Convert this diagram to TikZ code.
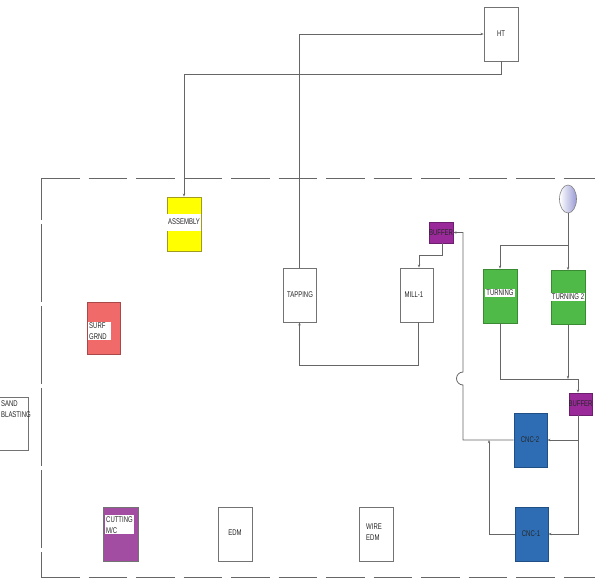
\documentclass[tikz,border=0pt]{standalone}
\usepackage{fontspec}
\setmainfont{Liberation Sans}[FakeStretch=0.72]
\usetikzlibrary{shapes.geometric,arrows.meta}
\definecolor{asmfill}{HTML}{FFFF00}
\definecolor{asmdraw}{HTML}{A09A20}
\definecolor{turnfill}{HTML}{4FBA47}
\definecolor{turndraw}{HTML}{3A8A34}
\definecolor{cncfill}{HTML}{2E6DB4}
\definecolor{cncdraw}{HTML}{1F4F85}
\definecolor{buffill}{HTML}{9A2A9A}
\definecolor{bufdraw}{HTML}{6E1E6E}
\definecolor{cutfill}{HTML}{A24DA2}
\definecolor{surffill}{HTML}{F06A6A}
\definecolor{surfdraw}{HTML}{A84848}
\definecolor{ellcol}{HTML}{9A9AD6}
\begin{document}
\begin{tikzpicture}[x=1pt,y=-1pt,
  box/.style={draw=black!55, line width=0.7pt, minimum width=34pt, minimum height=54pt, inner sep=0pt},
  lbl/.style={font=\fontsize{8.3}{11}\selectfont, inner sep=1pt, align=left, text=black!85},
  wl/.style={lbl, fill=white},
  conn/.style={draw=black!60, line width=0.8pt},
  arr/.style={conn, -{Stealth[length=3.2pt,width=2.4pt]}},
  border/.style={draw=black!60, line width=0.9pt}]
\useasboundingbox (0,0) rectangle (595,579);

% dashed plant border
\draw[border, dash pattern=on 38.5pt off 9pt] (41,178) -- (595,178);
\draw[border, dash pattern=on 38.5pt off 9pt] (41,577) -- (595,577);
\draw[border, dash pattern=on 78pt off 4pt, dash phase=36pt] (41,178) -- (41,577);

% boxes
\node[box, fill=white] (ht) at (501,34) {};
\node[box, fill=asmfill, draw=asmdraw] (asm) at (184,224) {};
\node[box, fill=white, minimum width=33pt] (tap) at (299.5,295) {};
\node[box, fill=white, minimum width=33pt] (mill) at (416.5,295) {};
\node[box, fill=buffill, draw=bufdraw, minimum width=24pt, minimum height=21pt] (buf1) at (441,232.5) {};
\node[box, fill=turnfill, draw=turndraw] (turn) at (500,296) {};
\node[box, fill=turnfill, draw=turndraw] (turn2) at (568,297.5) {};
\node[ellipse, draw=black!50, line width=0.6pt, left color=white, right color=ellcol, minimum width=17pt, minimum height=28pt, inner sep=0pt] (ell) at (568,199) {};
\node[box, fill=buffill, draw=bufdraw, minimum width=23pt, minimum height=22pt] (buf2) at (580.5,404) {};
\node[box, fill=cncfill, draw=cncdraw, minimum width=33pt] (cnc2) at (530.5,440) {};
\node[box, fill=cncfill, draw=cncdraw, minimum width=33pt] (cnc1) at (531.5,534) {};
\node[box, fill=surffill, draw=surfdraw, minimum width=33pt, minimum height=52pt] (surf) at (103.5,328) {};
\node[box, fill=white, minimum width=38pt, minimum height=53pt] (sand) at (9,423.5) {};
\node[box, fill=cutfill, draw=black!55, minimum width=35pt] (cut) at (120.5,534) {};
\node[box, fill=white] (edm) at (235,534) {};
\node[box, fill=white] (wedm) at (376,534) {};

% labels
\node[lbl] at (501,34) {HT};
\node[wl, minimum width=33pt, minimum height=17pt] at (184,222) {ASSEMBLY};
\node[lbl] at (300,295) {TAPPING};
\node[lbl] at (414,295) {MILL-1};
\node[lbl] at (441,232.5) {BUFFER};
\node[wl] at (500,293) {TURNING};
\node[wl] at (568,297) {TURNING 2};
\node[lbl] at (580.5,404) {BUFFER};
\node[lbl] at (530,440) {CNC-2};
\node[lbl] at (531,534) {CNC-1};
\node[wl, anchor=west, text width=21pt] at (88,331) {SURF\\GRND};
\node[lbl, anchor=north west] at (0,399) {SAND\\BLASTING};
\node[wl, anchor=north west, text width=27pt] at (105,515) {CUTTING\\M/C};
\node[lbl] at (235,533) {EDM};
\node[lbl, anchor=west] at (365,532) {WIRE\\EDM};

% connectors
\draw[arr] (tap.north) |- (ht.west);
\draw[arr] (ht.south) -- ++(0,13) -| (asm.north);
\draw[arr] ([xshift=1.5pt]mill.south) -- ++(0,43) -| (tap.south);
\draw[arr] ([xshift=1pt]buf1.south) -- ++(0,12) -| ([xshift=2.5pt]mill.north);
\coordinate (split) at (568,245);
\draw[conn] (ell.south) -- (split);
\draw[arr] (split) -| (turn.north);
\draw[arr] (split) -- (turn2.north);
\coordinate (j) at (578,379);
\draw[arr] (turn.south) |- (j) -- ([xshift=-2.5pt]buf2.north);
\draw[arr] (turn2.south) -- (turn2.south |- j);
\draw[arr] ([xshift=-2.5pt]buf2.south) |- (cnc1.east);
\coordinate (k) at (578,440);
\draw[arr] (k) -- (cnc2.east);
\coordinate (m) at (489,440);
\draw[arr] (cnc1.west) -| (m);
\draw[arr] (cnc2.west) -- (463,440) -- (463,385) arc[start angle=90, end angle=270, radius=6.5] |- (buf1.east);
\end{tikzpicture}
\end{document}
